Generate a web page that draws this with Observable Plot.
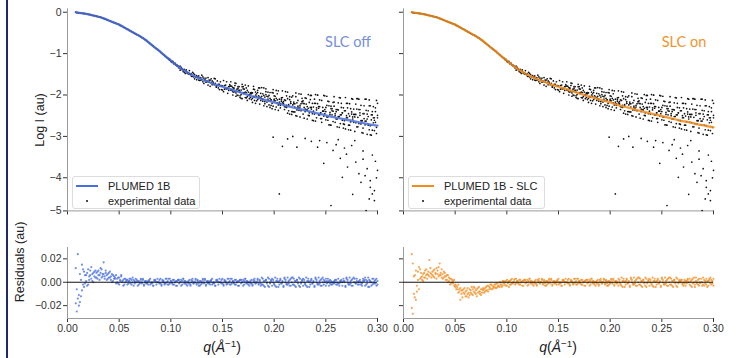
<!DOCTYPE html>
<html><head><meta charset="utf-8">
<script src="https://cdn.jsdelivr.net/npm/d3@7"></script>
<script src="https://cdn.jsdelivr.net/npm/@observablehq/plot@0.6"></script>
<style>
body{margin:0;background:#fff;}
#fig{position:relative;width:740px;height:358px;overflow:hidden;font-family:"Liberation Sans",Arial,sans-serif;color:#222;}
.ov{position:absolute;white-space:nowrap;line-height:1;}
.rot{transform:translate(-50%,-50%) rotate(-90deg);}
.ctr{transform:translate(-50%,-50%);}
.leg{position:absolute;border:1px solid #dcdcdc;border-radius:3px;background:rgba(255,255,255,0.9);box-sizing:border-box;}
.legtxt{position:absolute;font-size:11px;line-height:11px;color:#222;white-space:nowrap;}
</style></head><body><div id="fig"></div><script>
// ---------------- data ----------------
const xTicks = [0, 0.05, 0.10, 0.15, 0.20, 0.25, 0.30];
const yTicksTop = [0, -1, -2, -3, -4, -4.8];
const yTickLabelsTop = ["0", "−1", "−2", "−3", "−4", "−5"];
const yTicksRes = [-0.02, 0, 0.02];

// fitted curves (log I vs q)
const fitQ = [.008,.010,.015,.020,.025,.030,.035,.040,.045,.050,.055,.060,.065,.070,.075,.080,.085,.090,.095,.100,.105,.110,.115,.120,.125,.130,.135,.140,.145,.150,.155,.160,.165,.170,.175,.180,.185,.190,.195,.200,.205,.210,.215,.220,.225,.230,.235,.240,.245,.250,.255,.260,.265,.270,.275,.280,.285,.290,.295,.300];
const fitOff = [0,-.01,-.03,-.05,-.08,-.11,-.15,-.20,-.25,-.30,-.37,-.44,-.51,-.58,-.66,-.76,-.86,-.96,-1.07,-1.17,-1.27,-1.36,-1.44,-1.51,-1.57,-1.62,-1.67,-1.72,-1.76,-1.80,-1.84,-1.88,-1.92,-1.96,-2.00,-2.04,-2.07,-2.11,-2.14,-2.18,-2.21,-2.25,-2.28,-2.31,-2.34,-2.37,-2.40,-2.43,-2.46,-2.49,-2.52,-2.55,-2.57,-2.60,-2.62,-2.65,-2.67,-2.70,-2.72,-2.74];
const fitOn = [0,-.01,-.03,-.05,-.08,-.11,-.15,-.20,-.25,-.30,-.37,-.44,-.51,-.58,-.66,-.76,-.86,-.96,-1.07,-1.17,-1.27,-1.36,-1.44,-1.51,-1.57,-1.62,-1.67,-1.72,-1.76,-1.80,-1.84,-1.88,-1.92,-1.96,-2.00,-2.04,-2.07,-2.11,-2.14,-2.18,-2.22,-2.26,-2.29,-2.32,-2.36,-2.39,-2.42,-2.45,-2.48,-2.51,-2.54,-2.57,-2.60,-2.63,-2.65,-2.68,-2.71,-2.73,-2.76,-2.78];

// measurement q grid
const qGrid = [
.008,.009,.010,.011,.012,.013,.014,.015,.016,.017,
.018,.019,.020,.021,.022,.023,.024,.025,.026,.027,
.028,.029,.030,.031,.032,.033,.034,.035,.036,.037,
.038,.039,.040,.041,.042,.043,.044,.045,.046,.047,
.048,.049,.050,.051,.052,.053,.054,.055,.056,.057,
.058,.059,.060,.061,.062,.063,.064,.065,.066,.067,
.068,.069,.070,.071,.072,.073,.074,.075,.076,.077,
.078,.079,.080,.081,.082,.083,.084,.085,.086,.087,
.088,.089,.090,.091,.092,.093,.094,.095,.096,.097,
.098,.099,.100,.101,.102,.103,.104,.105,.106,.107,
.108,.109,.110,.111,.112,.113,.114,.115,.116,.117,
.118,.119,.120,.121,.122,.123,.124,.125,.126,.127,
.128,.129,.130,.131,.132,.133,.134,.135,.136,.137,
.138,.139,.140,.141,.142,.143,.144,.145,.146,.147,
.148,.149,.150,.151,.152,.153,.154,.155,.156,.157,
.158,.159,.160,.161,.162,.163,.164,.165,.166,.167,
.168,.169,.170,.171,.172,.173,.174,.175,.176,.177,
.178,.179,.180,.181,.182,.183,.184,.185,.186,.187,
.188,.189,.190,.191,.192,.193,.194,.195,.196,.197,
.198,.199,.200,.201,.202,.203,.204,.205,.206,.207,
.208,.209,.210,.211,.212,.213,.214,.215,.216,.217,
.218,.219,.220,.221,.222,.223,.224,.225,.226,.227,
.228,.229,.230,.231,.232,.233,.234,.235,.236,.237,
.238,.239,.240,.241,.242,.243,.244,.245,.246,.247,
.248,.249,.250,.251,.252,.253,.254,.255,.256,.257,
.258,.259,.260,.261,.262,.263,.264,.265,.266,.267,
.268,.269,.270,.271,.272,.273,.274,.275,.276,.277,
.278,.279,.280,.281,.282,.283,.284,.285,.286,.287,
.288,.289,.290,.291,.292,.293,.294,.295,.296,.297,
.298,.299,.300];

// experimental log I, first reading (all q)
const expA = [
0,-.01,-.01,-.02,-.02,-.02,-.02,-.03,-.03,-.04,
-.04,-.04,-.05,-.05,-.06,-.07,-.07,-.08,-.08,-.09,
-.10,-.10,-.11,-.12,-.12,-.13,-.14,-.15,-.16,-.17,
-.18,-.19,-.20,-.21,-.22,-.23,-.24,-.25,-.26,-.27,
-.28,-.29,-.30,-.32,-.33,-.34,-.36,-.37,-.38,-.40,
-.41,-.42,-.44,-.45,-.47,-.48,-.50,-.51,-.53,-.54,
-.55,-.56,-.58,-.59,-.61,-.62,-.64,-.66,-.68,-.70,
-.72,-.74,-.76,-.78,-.80,-.82,-.84,-.86,-.88,-.90,
-.92,-.94,-.96,-.99,-1.01,-1.03,-1.05,-1.07,-1.09,-1.11,
-1.14,-1.14,-1.19,-1.19,-1.19,-1.24,-1.25,-1.28,-1.28,-1.31,
-1.35,-1.30,-1.37,-1.36,-1.43,-1.38,-1.48,-1.43,-1.47,-1.47,
-1.49,-1.49,-1.55,-1.45,-1.56,-1.51,-1.57,-1.63,-1.57,-1.54,
-1.65,-1.58,-1.63,-1.56,-1.72,-1.65,-1.69,-1.66,-1.58,-1.64,
-1.64,-1.70,-1.75,-1.69,-1.75,-1.61,-1.81,-1.66,-1.74,-1.87,
-1.68,-1.87,-1.78,-1.92,-1.77,-1.84,-1.68,-1.84,-1.89,-1.79,
-1.68,-1.89,-1.82,-1.93,-1.77,-2.03,-1.91,-1.84,-1.89,-2.02,
-2.08,-1.80,-1.85,-1.95,-1.76,-1.94,-2.04,-2.00,-2.09,-1.95,
-1.94,-2.18,-1.86,-2.05,-2.00,-2.14,-1.94,-1.83,-2.05,-2.13,
-2.03,-2.15,-1.83,-2.21,-1.99,-2.03,-1.93,-2.14,-2.30,-2.12,
-2.20,-1.87,-2.13,-2.03,-2.29,-1.97,-2.37,-2.10,-2.21,-2.15,
-2.19,-2.16,-2.35,-1.92,-2.30,-2.09,-2.26,-2.46,-2.16,-2.05,
-2.40,-2.17,-2.29,-2.04,-2.51,-2.27,-2.37,-2.25,-1.98,-2.16,
-2.14,-2.30,-2.40,-2.22,-2.36,-1.99,-2.50,-2.11,-2.30,-2.61,
-2.39,-2.20,-2.63,-2.31,-2.00,-2.48,-2.28,-2.57,-2.13,-2.39,
-2.01,-2.45,-2.30,-2.53,-2.15,-2.72,-2.42,-2.27,-2.38,-2.64,
-2.17,-2.66,-2.40,-2.77,-2.36,-2.52,-2.07,-2.48,-2.61,-2.31,
-2.38,-2.82,-2.20,-2.55,-2.45,-2.73,-2.33,-2.09,-2.53,-2.66,
-2.88,-2.22,-2.34,-2.54,-2.10,-2.49,-2.70,-2.62,-2.80,-2.45,
-2.72,-2.10,-2.58,-2.38,-2.84,-2.26,-2.97,-2.48,-2.67,-2.55,
-2.40,-2.78,-2.20];
// second reading, from q = 0.098
const expB = [
-1.12,-1.16,-1.17,-1.21,-1.21,-1.24,-1.23,-1.27,-1.30,-1.30,
-1.32,-1.40,-1.33,-1.39,-1.39,-1.45,-1.41,-1.39,-1.47,-1.49,
-1.41,-1.51,-1.49,-1.55,-1.48,-1.61,-1.56,-1.53,-1.58,-1.64,
-1.59,-1.64,-1.52,-1.68,-1.59,-1.62,-1.59,-1.68,-1.76,-1.69,
-1.79,-1.61,-1.66,-1.72,-1.60,-1.72,-1.78,-1.77,-1.83,-1.74,
-1.78,-1.77,-1.88,-1.65,-1.86,-1.76,-1.85,-1.96,-1.80,-1.75,
-1.78,-1.87,-1.92,-1.83,-1.91,-1.72,-2.00,-1.80,-1.89,-2.06,
-1.99,-1.74,-1.94,-1.86,-2.06,-1.83,-2.13,-1.93,-2.01,-1.97,
-2.11,-1.95,-2.04,-1.87,-2.20,-2.03,-2.11,-2.02,-1.83,-1.96,
-2.09,-1.97,-2.26,-2.05,-1.85,-2.17,-2.04,-2.24,-1.94,-2.12,
-2.33,-1.95,-2.02,-2.14,-1.89,-2.12,-2.24,-2.21,-2.31,-2.11,
-1.90,-2.23,-2.12,-2.29,-2.02,-2.44,-2.23,-2.11,-2.20,-2.40,
-2.02,-2.41,-2.21,-2.50,-2.19,-2.31,-1.97,-2.29,-2.38,-2.16,
-2.20,-2.56,-2.07,-2.35,-2.28,-2.49,-2.18,-2.01,-2.34,-2.45,
-2.29,-2.46,-1.99,-2.55,-2.21,-2.28,-2.12,-2.43,-2.66,-2.39,
-2.51,-2.02,-2.40,-2.25,-2.61,-2.16,-2.72,-2.33,-2.48,-2.39,
-2.27,-2.45,-2.58,-2.35,-2.52,-2.06,-2.69,-2.20,-2.43,-2.80,
-2.71,-2.38,-2.55,-2.20,-2.84,-2.51,-2.65,-2.46,-2.10,-2.34,
-2.53,-2.47,-2.77,-2.09,-2.69,-2.35,-2.62,-2.91,-2.45,-2.26,
-2.10,-2.63,-2.46,-2.73,-2.26,-2.96,-2.60,-2.40,-2.55,-2.86,
-2.66,-2.13,-2.49];
// third reading, from q = 0.158
const expC = [
-1.88,-1.79,-2.00,-1.85,-1.71,-1.95,-1.86,-2.01,-1.80,-1.93,
-1.88,-2.09,-1.80,-1.97,-1.93,-2.07,-1.89,-1.78,-1.99,-2.06,
-1.97,-2.08,-1.79,-2.13,-1.93,-1.97,-1.89,-2.08,-2.22,-2.06,
-1.82,-2.10,-2.01,-2.16,-1.92,-2.28,-2.10,-2.01,-2.08,-2.25,
-1.94,-2.27,-2.10,-2.35,-2.08,-2.19,-1.90,-2.17,-2.25,-2.07,
-2.06,-2.20,-2.28,-2.13,-2.25,-1.93,-2.38,-2.04,-2.20,-2.47,
-2.24,-2.21,-2.41,-1.95,-2.36,-2.13,-2.32,-2.53,-2.21,-2.08,
-2.46,-2.21,-2.34,-2.08,-2.58,-2.32,-2.43,-2.30,-2.01,-2.20,
-2.62,-2.10,-2.20,-2.36,-2.00,-2.32,-2.48,-2.43,-2.57,-2.30,
-2.39,-2.35,-2.60,-2.03,-2.53,-2.26,-2.47,-2.73,-2.33,-2.18,
-2.04,-2.50,-2.35,-2.58,-2.19,-2.78,-2.48,-2.30,-2.43,-2.70,
-2.62,-2.06,-2.50,-2.31,-2.73,-2.21,-2.85,-2.41,-2.58,-2.47,
-2.47,-2.67,-2.09,-2.77,-2.35,-2.43,-2.25,-2.62,-2.92,-2.57,
-2.63,-2.37,-2.95,-2.52,-2.12,-2.74,-2.48,-2.85,-2.28,-2.61,
-2.31,-2.93,-2.55];
// low outlying readings
const outQ = [.199,.208,.213,.222,.242,.248,.257,.264,.266,.271,.279,.282,.284,.290,.293,.292,.297,.300,.255,.205,.289,.293,.295,.297,.218,.230,.236,.244,.251,.260,.262,.268,.270,.275,.278,.286,.286,.288,.295,.298,.299,.276];
const outLogI = [-3.02,-3.24,-3.06,-3.26,-3.26,-3.65,-3.34,-3.53,-3.99,-3.74,-3.62,-3.90,-4.11,-3.78,-4.07,-4.51,-4.31,-3.82,-4.67,-4.39,-4.79,-4.23,-4.39,-4.55,-3.00,-3.05,-3.12,-3.10,-3.15,-3.20,-3.08,-3.28,-3.43,-3.22,-3.10,-3.35,-3.55,-3.95,-3.45,-3.60,-4.00,-4.40];

// residuals, SLC off (two readings per q)
const resOffA = [
.012,-.006,-.014,-.020,.007,-.012,.015,-.002,.009,-.001,
.001,.008,-.002,.005,.010,.003,.007,0,.009,.004,
.004,.009,.006,.002,.008,.011,.005,.007,.003,.010,
.006,.003,.008,.004,.002,.007,.001,.005,.003,.006,
.003,-.001,.004,.001,.005,0,.002,-.002,.003,.001,
.002,-.001,.001,.003,-.002,0,.002,-.001,.003,0,
.001,-.002,0,.003,-.001,.002,-.003,0,.001,-.001,
-.002,.001,.003,-.001,0,-.003,.002,.001,-.002,0,
0,.002,-.001,-.003,.002,.001,-.001,.003,0,-.002,
.003,-.001,.001,0,-.002,.002,0,-.003,.001,.002,
-.001,0,.002,-.002,.003,-.001,.001,0,-.003,.001,
.002,-.003,0,.001,-.001,0,.003,-.002,.002,-.001,
-.003,.001,-.001,.002,0,.003,-.002,.001,-.001,0,
.001,.002,-.002,0,-.001,-.003,.001,.002,0,.003,
0,-.001,.003,-.002,.001,0,-.002,-.001,.003,.001,
-.002,.003,.001,-.001,.002,-.002,0,.001,-.003,.002,
.002,0,-.003,.001,.003,.001,-.001,-.002,0,-.001,
-.001,-.002,.002,.003,-.001,0,.002,-.001,.001,-.003,
.004,-.002,.001,-.004,.002,0,-.003,.003,-.001,.001,
-.003,.002,-.001,.004,-.004,.001,0,-.002,.003,-.001,
.001,-.004,.003,0,-.002,.004,-.001,.002,-.003,0,
-.002,.003,-.003,.001,.002,-.001,.004,-.004,0,.002,
.003,0,-.002,-.003,.001,.003,-.004,.001,.002,-.001,
0,-.003,.004,.002,-.001,-.002,.001,-.003,.003,.004,
-.002,.001,.003,-.001,0,-.003,.002,.001,-.002,0,
-.001,0,.002,-.002,.003,-.001,.001,0,-.003,.001,
.001,-.004,.003,0,-.002,.004,-.001,.002,-.003,0,
0,-.001,.003,-.002,.001,0,-.002,-.001,.003,.001,
.004,-.002,.001,-.004,.002,0,-.003,.003,-.001,.001,
.002,-.003,.001];
const resOffB = [
-.018,-.025,.024,-.011,-.017,.002,-.007,.011,-.004,.006,
.006,-.003,.011,.002,.006,.013,.001,.008,.005,.010,
.008,.003,.010,.006,.012,.004,.007,.017,.005,.008,
.002,.007,.004,.009,.005,0,.006,.003,.004,-.001,
0,.004,-.002,.002,.006,.001,-.003,.003,0,.002,
-.002,.001,.003,-.001,.002,.004,-.003,.001,0,.002,
-.003,.001,-.001,.002,0,.003,-.002,.001,-.001,0,
.001,.002,-.002,0,-.001,-.003,.001,.002,0,.003,
0,-.001,.003,-.002,.001,0,-.002,-.001,.003,.001,
-.002,.003,.001,-.001,.002,-.002,0,.001,-.003,.002,
.002,0,-.003,.001,.003,.001,-.001,-.002,0,-.001,
-.001,-.002,.002,.003,-.001,0,.002,-.001,.001,-.003,
.001,-.002,0,.003,-.001,.002,-.003,0,.001,-.001,
-.002,.001,.003,-.001,0,-.003,.002,.001,-.002,0,
0,.002,-.001,-.003,.002,.001,-.001,.003,0,-.002,
.003,-.001,.001,0,-.002,.002,0,-.003,.001,.002,
-.001,0,.002,-.002,.003,-.001,.001,0,-.003,.001,
.002,-.003,0,.001,-.001,0,.003,-.002,.002,-.001,
-.002,.003,-.003,.001,.002,-.001,.004,-.004,0,.002,
.003,0,-.002,-.003,.001,.003,-.004,.001,.002,-.001,
0,-.003,.004,.002,-.001,-.002,.001,-.003,.003,.004,
.004,-.002,.001,-.004,.002,0,-.003,.003,-.001,.001,
-.003,.002,-.001,.004,-.004,.001,0,-.002,.003,-.001,
.001,-.004,.003,0,-.002,.004,-.001,.002,-.003,0,
.002,0,-.003,.001,.003,.001,-.001,-.002,0,-.001,
.001,.002,-.002,0,-.001,-.003,.001,.002,0,.003,
0,-.003,.004,.002,-.001,-.002,.001,-.003,.003,.004,
.003,-.001,.001,0,-.002,.002,0,-.003,.001,.002,
-.003,.002,-.001,.004,-.004,.001,0,-.002,.003,-.001,
-.001,.003,-.002];
// residuals, SLC on
const resOnA = [
-.022,.016,-.010,.006,-.015,-.003,.009,-.006,.011,.004,
.002,.007,.004,.010,.006,.003,.009,.005,.012,.007,
.006,.010,.004,.008,.012,.007,.005,.016,.006,.011,
.007,.004,.008,.005,.002,.006,.001,.003,-.001,.002,
-.001,.002,-.004,-.003,-.006,-.002,-.008,-.005,-.010,-.007,
-.006,-.010,-.008,-.012,-.005,-.009,-.011,-.007,-.010,-.006,
-.008,-.005,-.010,-.006,-.009,-.004,-.008,-.011,-.006,-.007,
-.006,-.008,-.004,-.007,-.003,-.006,-.005,-.002,-.006,-.004,
-.004,-.002,-.005,-.001,-.003,-.004,0,-.002,-.003,.001,
-.002,.001,-.003,0,.001,-.002,.002,-.001,0,.002,
.003,-.001,.001,0,-.002,.002,0,-.003,.001,.002,
-.001,0,.002,-.002,.003,-.001,.001,0,-.003,.001,
.002,-.003,0,.001,-.001,0,.003,-.002,.002,-.001,
-.003,.001,-.001,.002,0,.003,-.002,.001,-.001,0,
.001,.002,-.002,0,-.001,-.003,.001,.002,0,.003,
0,-.001,.003,-.002,.001,0,-.002,-.001,.003,.001,
-.002,.003,.001,-.001,.002,-.002,0,.001,-.003,.002,
.002,0,-.003,.001,.003,.001,-.001,-.002,0,-.001,
-.001,-.002,.002,.003,-.001,0,.002,-.001,.001,-.003,
.001,-.002,0,.003,-.001,.002,-.003,0,.001,-.001,
-.003,.002,-.001,.004,-.004,.001,0,-.002,.003,-.001,
.001,-.004,.003,0,-.002,.004,-.001,.002,-.003,0,
-.002,.003,-.003,.001,.002,-.001,.004,-.004,0,.002,
.003,0,-.002,-.003,.001,.003,-.004,.001,.002,-.001,
0,-.003,.004,.002,-.001,-.002,.001,-.003,.003,.004,
.004,-.002,.001,-.004,.002,0,-.003,.003,-.001,.001,
0,.002,-.001,-.003,.002,.001,-.001,.003,0,-.002,
-.003,.002,-.001,.004,-.004,.001,0,-.002,.003,-.001,
.003,0,-.002,-.003,.001,.003,-.004,.001,.002,-.001,
-.002,.001,.003];
const resOnB = [
.024,-.027,.005,-.013,.010,-.008,.002,.013,.003,.008,
.005,.001,.008,.004,.011,.007,.006,.019,.008,.004,
.009,.005,.011,.007,.003,.010,.013,.006,.008,.004,
.003,.009,.005,.002,.006,0,.004,-.002,.003,0,
.001,-.003,-.002,-.006,-.004,-.009,-.006,-.015,-.007,-.013,
-.009,-.005,-.012,-.007,-.010,-.013,-.006,-.009,-.004,-.011,
-.004,-.009,-.007,-.012,-.005,-.008,-.010,-.006,-.009,-.005,
-.009,-.005,-.007,-.003,-.008,-.004,-.002,-.006,-.003,-.005,
-.002,-.005,-.001,-.004,-.003,0,-.002,-.004,.001,-.001,
0,-.003,.002,-.001,-.004,.001,-.002,.003,-.001,0,
-.002,.003,.001,-.001,.002,-.002,0,.001,-.003,.002,
.002,0,-.003,.001,.003,.001,-.001,-.002,0,-.001,
-.001,-.002,.002,.003,-.001,0,.002,-.001,.001,-.003,
.001,-.002,0,.003,-.001,.002,-.003,0,.001,-.001,
-.002,.001,.003,-.001,0,-.003,.002,.001,-.002,0,
0,.002,-.001,-.003,.002,.001,-.001,.003,0,-.002,
.003,-.001,.001,0,-.002,.002,0,-.003,.001,.002,
-.001,0,.002,-.002,.003,-.001,.001,0,-.003,.001,
.002,-.003,0,.001,-.001,0,.003,-.002,.002,-.001,
-.003,.001,-.001,.002,0,.003,-.002,.001,-.001,0,
.003,0,-.002,-.003,.001,.003,-.004,.001,.002,-.001,
0,-.003,.004,.002,-.001,-.002,.001,-.003,.003,.004,
.004,-.002,.001,-.004,.002,0,-.003,.003,-.001,.001,
-.003,.002,-.001,.004,-.004,.001,0,-.002,.003,-.001,
.001,-.004,.003,0,-.002,.004,-.001,.002,-.003,0,
-.002,.003,-.003,.001,.002,-.001,.004,-.004,0,.002,
.001,.002,-.002,0,-.001,-.003,.001,.002,0,.003,
.001,-.004,.003,0,-.002,.004,-.001,.002,-.003,0,
0,-.003,.004,.002,-.001,-.002,.001,-.003,.003,.004,
.002,-.001,-.003];

const colors = {off: "#4a6fdc", on: "#f28c1c", offDot: "#4f74e3", onDot: "#f5922a", offTitle: "#7590dc", onTitle: "#f0962c"};

// ---------------- build ----------------
const bStart = qGrid.indexOf(0.098), cStart = qGrid.indexOf(0.158);
const expData = [
  ...qGrid.map((q, i) => ({q, v: expA[i]})),
  ...expB.map((v, i) => ({q: qGrid[bStart + i], v})),
  ...expC.map((v, i) => ({q: qGrid[cStart + i], v})),
  ...outQ.map((q, i) => ({q, v: outLogI[i]}))
].filter(d => d.q != null && d.v != null);
const resData = (a, b) => [...qGrid.map((q, i) => ({q, r: a[i]})), ...qGrid.map((q, i) => ({q, r: b[i]}))].filter(d => d.r != null);

const fig = document.getElementById("fig");
const FONT = "'Liberation Sans', Arial, sans-serif";
function place(el, left, top) { el.style.position = "absolute"; el.style.left = left + "px"; el.style.top = top + "px"; fig.appendChild(el); }
const blank = () => "";
const topFmt = d => { const i = yTicksTop.indexOf(d); return i >= 0 ? yTickLabelsTop[i] : ""; };

function topPanel(fitV, color, width, mL, mR, showY) {
  return Plot.plot({
    width, height: 226, marginLeft: mL, marginRight: mR, marginTop: 8.4, marginBottom: 15.6,
    style: {fontFamily: FONT, fontSize: "10.5px", color: "#333", background: "white", overflow: "visible"},
    x: {domain: [0, 0.3], ticks: xTicks, tickSize: 4, tickFormat: blank, label: null},
    y: {domain: [-4.8, 0.08], ticks: yTicksTop, tickSize: 4, tickPadding: 2, tickFormat: showY ? topFmt : blank, label: null},
    marks: [
      Plot.ruleX([0], {stroke: "#9a9a9a", strokeWidth: 1}),
      Plot.ruleY([-4.8], {stroke: "#9a9a9a", strokeWidth: 1}),
      Plot.dot(expData, {x: "q", y: "v", r: 0.85, fill: "#111"}),
      Plot.line(fitQ.map((q, i) => ({q, v: fitV[i]})), {x: "q", y: "v", stroke: color, strokeWidth: 2.3, strokeOpacity: 0.85, curve: "monotone-x"})
    ]
  });
}
function resPanel(data, color, width, mL, mR, showY) {
  return Plot.plot({
    width, height: 132, marginLeft: mL, marginRight: mR, marginTop: 21, marginBottom: 40,
    style: {fontFamily: FONT, fontSize: "10.5px", color: "#333", background: "white", overflow: "visible"},
    x: {domain: [0, 0.3], ticks: xTicks, tickSize: 4, tickPadding: 2, tickFormat: d3.format(".2f"), label: null},
    y: {domain: [-0.031, 0.0297], ticks: yTicksRes, tickSize: 4, tickPadding: 2, tickFormat: showY ? d3.format(".2f") : blank, label: null},
    marks: [
      Plot.ruleX([0], {stroke: "#9a9a9a", strokeWidth: 1}),
      Plot.ruleY([-0.031], {stroke: "#9a9a9a", strokeWidth: 1}),
      Plot.dot(data, {x: "q", y: "r", r: 1.1, fill: color, fillOpacity: 0.8}),
      Plot.ruleY([0], {stroke: "#111", strokeWidth: 1})
    ]
  });
}

place(topPanel(fitOff, colors.off, 390, 67, 13, true), 0, 0);
place(topPanel(fitOn, colors.on, 350, 13, 27, false), 390, 0);
place(resPanel(resData(resOffA, resOffB), colors.offDot, 390, 67, 13, true), 0, 226);
place(resPanel(resData(resOnA, resOnB), colors.onDot, 350, 13, 27, false), 390, 226);

// ---------------- text overlays ----------------
function txt(html, x, y, css, cls) {
  const d = document.createElement("div");
  d.className = "ov " + (cls || "ctr");
  d.innerHTML = html;
  d.style.left = x + "px"; d.style.top = y + "px";
  Object.assign(d.style, css || {});
  fig.appendChild(d);
  return d;
}
txt("Log I (au)", 40, 120, {fontSize: "12.5px"}, "rot");
txt("Residuals (au)", 20, 262, {fontSize: "12.5px"}, "rot");
const qLabel = "<i>q</i>(<i>Å</i><span style='font-size:70%;position:relative;top:-5px'>−1</span>)";
txt(qLabel, 222, 347, {fontSize: "14px"});
txt(qLabel, 558, 347, {fontSize: "14px"});
txt("SLC off", 348, 42, {fontSize: "14.5px", fontFamily: "Lato, 'Open Sans', sans-serif", color: colors.offTitle});
txt("SLC on", 684, 42, {fontSize: "14.5px", fontFamily: "Lato, 'Open Sans', sans-serif", color: colors.onTitle});

function legend(x, y, w, label, color) {
  const box = document.createElement("div");
  box.className = "leg";
  Object.assign(box.style, {left: x + "px", top: y + "px", width: w + "px", height: "33px"});
  fig.appendChild(box);
  const ln = document.createElement("div");
  Object.assign(ln.style, {position: "absolute", left: (x + 4) + "px", top: (y + 9) + "px", width: "22px", height: "2px", background: color});
  fig.appendChild(ln);
  const dt = document.createElement("div");
  Object.assign(dt.style, {position: "absolute", left: (x + 14) + "px", top: (y + 24) + "px", width: "2px", height: "2px", borderRadius: "1px", background: "#111"});
  fig.appendChild(dt);
  const t1 = document.createElement("div"); t1.className = "legtxt"; t1.textContent = label;
  Object.assign(t1.style, {left: (x + 36) + "px", top: (y + 4.5) + "px"}); fig.appendChild(t1);
  const t2 = document.createElement("div"); t2.className = "legtxt"; t2.textContent = "experimental data";
  Object.assign(t2.style, {left: (x + 36) + "px", top: (y + 20) + "px"}); fig.appendChild(t2);
}
legend(72, 176, 128, "PLUMED 1B", colors.off);
legend(408, 176, 137, "PLUMED 1B - SLC", colors.on);

// left border rule of the figure
const edge = document.createElement("div");
Object.assign(edge.style, {position: "absolute", left: "6px", top: "0px", width: "1.5px", height: "358px", background: "#1d2a6e"});
fig.appendChild(edge);
</script></body></html>
